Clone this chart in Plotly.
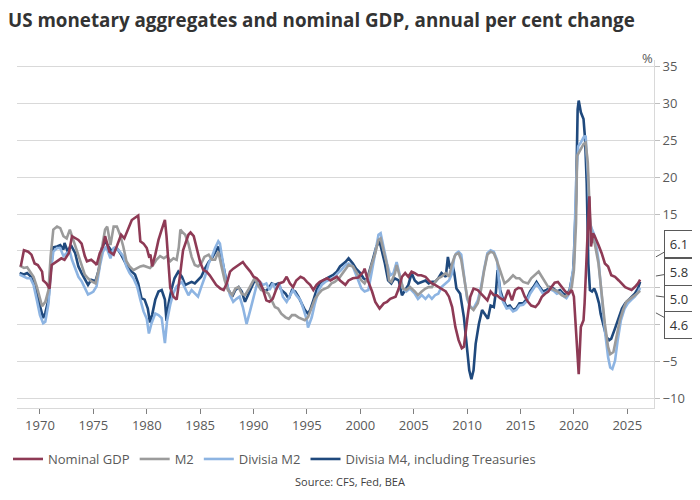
import plotly.graph_objects as go

# US monetary aggregates and nominal GDP, % y/y

gdp_year = [1968.2, 1968.5, 1968.9, 1969.2, 1969.5, 1969.8, 1970.2, 1970.3, 1970.6, 1970.9,
            1971.1, 1971.6, 1972.0, 1972.3, 1972.7, 1973.0, 1973.3, 1973.6, 1973.9, 1974.2,
            1974.4, 1974.8, 1975.2, 1975.3, 1975.6, 1975.9, 1976.1, 1976.5, 1976.9, 1977.2,
            1977.6, 1977.9, 1978.3, 1978.6, 1978.9, 1979.2, 1979.4, 1979.7, 1980.0, 1980.2,
            1980.35, 1980.5, 1980.8, 1981.1, 1981.4, 1981.7, 1981.85, 1982.0, 1982.2, 1982.5,
            1982.8, 1983.1, 1983.4, 1983.9, 1984.1, 1984.4, 1984.7, 1985.0, 1985.3, 1985.6,
            1985.9, 1986.2, 1986.5, 1986.9, 1987.2, 1987.5, 1987.8, 1988.1, 1988.4, 1988.7,
            1989.0, 1989.3, 1989.7, 1990.0, 1990.3, 1990.6, 1990.9, 1991.2, 1991.5, 1991.8,
            1992.1, 1992.4, 1992.8, 1993.1, 1993.4, 1993.7, 1994.0, 1994.4, 1994.7, 1995.0,
            1995.3, 1995.6, 1995.9, 1996.2, 1996.5, 1996.9, 1997.2, 1997.5, 1997.8, 1998.1,
            1998.4, 1998.6, 1998.9, 1999.3, 1999.8, 2000.3, 2000.4, 2000.7, 2001.1, 2001.4,
            2001.8, 2002.2, 2002.5, 2002.8, 2003.3, 2003.6, 2003.9, 2004.2, 2004.5, 2004.8,
            2005.1, 2005.4, 2005.7, 2006.1, 2006.4, 2006.7, 2007.0, 2007.3, 2007.6, 2008.0,
            2008.3, 2008.6, 2008.9, 2009.2, 2009.5, 2009.7, 2010.0, 2010.3, 2010.6, 2011.0,
            2011.3, 2011.6, 2011.9, 2012.2, 2012.5, 2012.8, 2013.1, 2013.5, 2013.85, 2014.2,
            2014.5, 2014.8, 2015.1, 2015.4, 2015.7, 2016.0, 2016.4, 2016.7, 2017.0, 2017.3,
            2017.6, 2017.9, 2018.2, 2018.5, 2018.9, 2019.2, 2019.5, 2019.8, 2020.0, 2020.3,
            2020.45, 2020.65, 2020.9, 2021.0, 2021.2, 2021.3, 2021.45, 2021.6, 2021.8, 2021.95,
            2022.3, 2022.6, 2022.9, 2023.2, 2023.5, 2023.85, 2024.2, 2024.5, 2024.8, 2025.1,
            2025.4, 2025.7, 2026.0, 2026.2]
gdp_val = [7.9, 10.1, 9.9, 9.5, 8.3, 8.1, 7.2, 6.0, 5.6, 4.9,
           8.1, 8.6, 9.0, 8.8, 9.7, 12.0, 11.7, 11.5, 11.0, 9.3,
           8.6, 8.8, 8.3, 8.1, 9.7, 10.6, 12.0, 9.9, 9.5, 10.6,
           12.2, 11.7, 13.3, 14.2, 14.5, 14.8, 11.3, 11.0, 10.4, 9.3,
           9.5, 7.9, 9.5, 11.5, 12.9, 14.2, 12.0, 8.8, 5.0, 3.8,
           3.4, 6.5, 10.1, 12.2, 12.5, 12.0, 10.1, 8.5, 7.4, 7.2,
           6.7, 6.0, 5.4, 4.9, 4.7, 5.6, 7.2, 7.6, 7.9, 8.1,
           8.5, 7.9, 7.2, 6.5, 6.3, 5.8, 4.7, 3.3, 3.1, 3.5,
           4.7, 5.6, 5.8, 6.5, 5.6, 5.1, 6.0, 6.5, 6.3, 5.8,
           5.4, 4.7, 5.4, 5.8, 6.0, 6.3, 6.0, 6.3, 6.5, 6.0,
           5.6, 5.4, 6.0, 6.3, 6.4, 7.2, 7.6, 6.0, 4.5, 3.1,
           2.2, 2.9, 3.1, 3.5, 3.8, 4.9, 6.5, 7.0, 6.5, 7.2,
           7.0, 6.7, 6.7, 6.5, 6.0, 5.6, 5.4, 5.1, 4.9, 4.5,
           3.8, 2.4, -0.3, -2.1, -3.2, -3.0, 0.6, 3.8, 4.9, 4.7,
           4.2, 3.8, 3.3, 4.5, 4.0, 4.0, 3.6, 3.3, 4.7, 3.3,
           4.7, 5.0, 4.9, 3.8, 3.1, 2.6, 2.4, 2.9, 3.8, 4.2,
           4.5, 5.1, 5.7, 5.8, 5.1, 4.5, 4.2, 4.7, 3.8, -2.6,
           -6.7, -0.3, 0.6, 2.9, 8.3, 12.9, 17.4, 10.6, 12.4, 12.0,
           10.8, 9.7, 8.3, 7.9, 6.7, 6.5, 6.0, 5.6, 5.1, 4.9,
           4.7, 5.1, 5.6, 6.1]

m2_year = [1968.1, 1968.5, 1968.8, 1969.1, 1969.4, 1969.7, 1970.0, 1970.2, 1970.5, 1970.8,
           1971.0, 1971.25, 1971.6, 1971.9, 1972.2, 1972.5, 1972.8, 1973.0, 1973.3, 1973.6,
           1973.9, 1974.2, 1974.5, 1974.8, 1975.2, 1975.5, 1975.8, 1976.1, 1976.3, 1976.6,
           1976.9, 1977.2, 1977.5, 1977.8, 1978.1, 1978.4, 1978.75, 1979.1, 1979.4, 1979.7,
           1980.0, 1980.3, 1980.6, 1980.9, 1981.25, 1981.6, 1981.9, 1982.2, 1982.5, 1982.8,
           1983.0, 1983.15, 1983.3, 1983.6, 1983.9, 1984.2, 1984.5, 1984.8, 1985.1, 1985.4,
           1985.8, 1986.1, 1986.4, 1986.7, 1987.0, 1987.3, 1987.6, 1988.0, 1988.3, 1988.6,
           1988.9, 1989.2, 1989.5, 1989.8, 1990.1, 1990.4, 1990.7, 1991.1, 1991.4, 1991.7,
           1992.0, 1992.3, 1992.6, 1993.0, 1993.3, 1993.6, 1993.9, 1994.2, 1994.5, 1994.8,
           1995.1, 1995.45, 1995.75, 1996.1, 1996.4, 1996.7, 1997.0, 1997.3, 1997.6, 1998.0,
           1998.3, 1998.6, 1998.9, 1999.3, 1999.65, 2000.1, 2000.4, 2000.75, 2001.05, 2001.4,
           2001.7, 2001.9, 2002.2, 2002.5, 2002.7, 2002.9, 2003.25, 2003.4, 2003.7, 2004.0,
           2004.3, 2004.65, 2005.1, 2005.4, 2005.75, 2006.1, 2006.4, 2006.7, 2007.0, 2007.3,
           2007.6, 2008.0, 2008.3, 2008.6, 2008.9, 2009.2, 2009.45, 2009.7, 2010.0, 2010.3,
           2010.6, 2011.0, 2011.3, 2011.6, 2011.9, 2012.2, 2012.5, 2012.8, 2013.1, 2013.5,
           2013.85, 2014.3, 2014.6, 2014.9, 2015.25, 2015.7, 2016.0, 2016.35, 2016.7, 2017.0,
           2017.3, 2017.6, 2018.0, 2018.2, 2018.5, 2018.85, 2019.2, 2019.5, 2019.8, 2020.0,
           2020.2, 2020.3, 2020.55, 2020.9, 2021.1, 2021.3, 2021.5, 2021.65, 2021.95, 2022.3,
           2022.6, 2022.9, 2023.2, 2023.4, 2023.7, 2024.0, 2024.3, 2024.6, 2024.9, 2025.25,
           2025.55, 2025.9, 2026.2]
m2_val = [8.0, 7.7, 7.8, 7.2, 6.5, 5.2, 3.4, 2.5, 3.1, 4.7,
          9.3, 12.9, 13.3, 13.1, 12.0, 11.7, 12.9, 12.0, 10.6, 9.5,
          8.1, 6.8, 6.3, 5.9, 5.6, 7.4, 10.4, 12.9, 13.3, 10.8,
          13.3, 13.3, 12.2, 10.6, 8.6, 7.9, 7.4, 7.7, 7.9, 8.0,
          7.9, 7.7, 8.1, 8.8, 9.3, 9.0, 9.3, 8.6, 9.0, 8.8,
          10.5, 12.9, 12.6, 12.2, 11.0, 9.2, 8.1, 7.9, 8.3, 9.2,
          9.5, 8.8, 8.8, 9.9, 7.9, 6.0, 4.7, 4.0, 4.9, 5.1,
          4.2, 4.0, 4.7, 5.6, 6.3, 5.4, 4.7, 4.5, 4.2, 3.3,
          2.4, 2.2, 1.5, 1.0, 0.8, 1.3, 1.3, 1.0, 0.8, 0.6,
          1.0, 2.4, 3.5, 4.2, 4.7, 4.9, 5.1, 5.6, 5.8, 6.3,
          6.9, 7.6, 8.1, 7.9, 7.0, 6.0, 5.6, 6.5, 8.1, 9.7,
          11.5, 11.7, 9.9, 8.1, 6.0, 5.8, 7.0, 8.1, 6.5, 4.9,
          4.7, 5.1, 4.5, 4.0, 4.5, 4.9, 5.1, 5.1, 5.8, 6.3,
          6.5, 7.0, 6.5, 8.3, 9.5, 9.7, 8.8, 6.5, 3.8, 2.4,
          2.0, 2.9, 4.7, 7.4, 9.5, 9.9, 9.7, 8.6, 7.4, 5.6,
          6.0, 6.7, 6.3, 6.3, 5.8, 5.6, 6.3, 6.7, 7.2, 6.5,
          5.8, 5.1, 4.8, 4.7, 4.5, 4.0, 3.8, 4.2, 5.1, 7.4,
          13.8, 22.9, 23.5, 24.5, 24.7, 22.0, 14.7, 12.0, 11.0, 8.3,
          4.2, 0.1, -3.0, -4.0, -3.7, -1.7, 0.6, 2.0, 3.1, 3.5,
          3.8, 4.2, 4.6]

dm2_year = [1968.1, 1968.5, 1968.8, 1969.1, 1969.4, 1969.7, 1970.0, 1970.3, 1970.5, 1970.8,
            1971.0, 1971.25, 1971.6, 1971.9, 1972.2, 1972.5, 1972.8, 1973.0, 1973.3, 1973.6,
            1973.9, 1974.2, 1974.5, 1974.8, 1975.0, 1975.3, 1975.6, 1975.9, 1976.2, 1976.6,
            1976.9, 1977.2, 1977.5, 1977.8, 1978.1, 1978.4, 1978.75, 1979.1, 1979.4, 1979.7,
            1980.0, 1980.2, 1980.45, 1980.8, 1981.1, 1981.4, 1981.7, 1981.9, 1982.2, 1982.5,
            1982.8, 1983.1, 1983.3, 1983.6, 1983.9, 1984.2, 1984.5, 1984.8, 1985.1, 1985.45,
            1985.8, 1986.1, 1986.4, 1986.7, 1986.85, 1987.1, 1987.4, 1987.8, 1988.1, 1988.4,
            1988.7, 1989.0, 1989.35, 1989.7, 1990.0, 1990.3, 1990.6, 1990.9, 1991.2, 1991.5,
            1991.8, 1992.1, 1992.4, 1992.75, 1993.1, 1993.4, 1993.7, 1994.0, 1994.4, 1994.7,
            1995.0, 1995.1, 1995.45, 1995.75, 1996.1, 1996.4, 1996.7, 1997.0, 1997.3, 1997.6,
            1997.9, 1998.2, 1998.6, 1998.9, 1999.3, 1999.65, 2000.1, 2000.4, 2000.75, 2001.05,
            2001.4, 2001.7, 2001.9, 2002.2, 2002.5, 2002.8, 2003.1, 2003.4, 2003.7, 2004.0,
            2004.3, 2004.65, 2005.1, 2005.4, 2005.75, 2006.1, 2006.4, 2006.7, 2007.0, 2007.3,
            2007.6, 2008.0, 2008.3, 2008.6, 2008.8, 2009.0, 2009.2, 2009.45, 2009.7, 2010.0,
            2010.3, 2010.6, 2011.0, 2011.3, 2011.6, 2011.9, 2012.2, 2012.5, 2012.8, 2013.1,
            2013.4, 2013.7, 2014.0, 2014.3, 2014.6, 2014.9, 2015.25, 2015.6, 2015.9, 2016.2,
            2016.5, 2016.8, 2017.1, 2017.45, 2017.75, 2018.1, 2018.4, 2018.7, 2019.0, 2019.3,
            2019.6, 2020.0, 2020.2, 2020.4, 2020.65, 2020.9, 2021.1, 2021.3, 2021.5, 2021.7,
            2021.95, 2022.3, 2022.6, 2022.9, 2023.2, 2023.4, 2023.6, 2023.85, 2024.1, 2024.4,
            2024.75, 2025.05, 2025.4, 2025.7, 2026.0, 2026.2]
dm2_val = [6.8, 6.5, 6.3, 6.3, 5.4, 3.4, 1.3, 0.2, 0.4, 2.9,
           7.0, 9.9, 10.4, 10.4, 9.3, 9.7, 9.9, 8.8, 7.7, 6.5,
           5.9, 5.0, 4.1, 4.3, 4.5, 5.2, 7.9, 9.9, 10.6, 9.0,
           10.4, 10.4, 9.9, 9.3, 7.9, 7.0, 6.3, 5.2, 3.4, 1.8,
           0.8, -1.2, 0.2, 1.5, 1.3, 0.9, -2.5, 0.5, 2.7, 4.3,
           5.2, 5.6, 5.8, 4.9, 4.0, 4.7, 4.2, 3.8, 5.1, 6.5,
           8.3, 9.2, 10.4, 11.3, 11.0, 8.8, 6.0, 4.0, 3.1, 3.5,
           3.8, 2.4, 0.1, 2.0, 3.8, 5.4, 5.8, 5.4, 5.6, 4.7,
           5.6, 4.7, 5.6, 3.8, 3.1, 4.0, 4.7, 4.0, 3.3, 2.0,
           0.6, -0.4, 1.0, 2.9, 4.7, 5.4, 5.8, 6.0, 6.3, 6.5,
           7.0, 7.4, 8.1, 8.3, 7.9, 6.5, 4.9, 4.5, 4.7, 7.0,
           10.1, 12.2, 12.4, 10.1, 8.3, 6.7, 7.0, 8.5, 6.5, 4.9,
           4.5, 4.9, 4.2, 3.5, 4.0, 3.5, 4.0, 3.5, 4.0, 4.2,
           5.1, 5.6, 6.0, 7.0, 9.2, 9.7, 9.9, 9.5, 6.5, 3.5,
           2.4, 2.2, 3.3, 5.1, 7.6, 9.7, 10.1, 9.9, 8.8, 4.2,
           3.0, 2.2, 2.3, 1.8, 2.0, 2.6, 2.7, 3.2, 4.2, 4.8,
           5.5, 4.9, 4.2, 4.4, 4.8, 4.6, 4.2, 4.4, 3.9, 3.6,
           4.3, 8.3, 19.2, 24.2, 24.7, 25.4, 25.6, 20.6, 13.8, 12.9,
           12.0, 8.8, 3.8, -0.8, -4.4, -5.8, -6.0, -4.9, -2.1, 0.6,
           2.2, 2.9, 3.4, 3.8, 4.4, 5.0]

dm4_year = [1968.1, 1968.5, 1968.8, 1969.1, 1969.4, 1969.7, 1970.0, 1970.3, 1970.5, 1970.8,
            1971.0, 1971.25, 1971.6, 1971.9, 1972.2, 1972.3, 1972.6, 1972.9, 1973.3, 1973.6,
            1973.9, 1974.2, 1974.5, 1974.8, 1975.2, 1975.5, 1975.8, 1976.1, 1976.4, 1976.75,
            1977.0, 1977.3, 1977.6, 1977.95, 1978.25, 1978.6, 1978.9, 1979.2, 1979.5, 1979.8,
            1980.1, 1980.3, 1980.5, 1980.8, 1981.1, 1981.4, 1981.7, 1981.85, 1982.05, 1982.3,
            1982.6, 1982.95, 1983.3, 1983.6, 1983.9, 1984.2, 1984.5, 1984.8, 1985.1, 1985.45,
            1985.8, 1986.1, 1986.4, 1986.7, 1987.0, 1987.3, 1987.6, 1988.0, 1988.3, 1988.6,
            1988.9, 1989.2, 1989.5, 1989.8, 1990.1, 1990.4, 1990.7, 1991.1, 1991.4, 1991.7,
            1992.0, 1992.3, 1992.6, 1993.0, 1993.3, 1993.6, 1993.9, 1994.2, 1994.5, 1994.8,
            1995.1, 1995.3, 1995.6, 1995.9, 1996.2, 1996.5, 1996.9, 1997.2, 1997.5, 1997.8,
            1998.1, 1998.6, 1998.9, 1999.3, 1999.6, 2000.0, 2000.3, 2000.6, 2000.9, 2001.2,
            2001.5, 2001.8, 2002.0, 2002.3, 2002.6, 2002.9, 2003.2, 2003.6, 2003.9, 2004.2,
            2004.5, 2004.8, 2005.1, 2005.4, 2005.7, 2006.1, 2006.4, 2006.7, 2007.0, 2007.3,
            2007.6, 2008.0, 2008.2, 2008.4, 2008.6, 2008.8, 2009.0, 2009.35, 2009.7, 2010.0,
            2010.2, 2010.4, 2010.6, 2010.8, 2011.1, 2011.4, 2011.7, 2011.95, 2012.2, 2012.5,
            2012.7, 2012.85, 2013.1, 2013.4, 2013.7, 2014.0, 2014.3, 2014.6, 2014.9, 2015.25,
            2015.6, 2015.9, 2016.2, 2016.5, 2016.8, 2017.1, 2017.45, 2017.75, 2018.1, 2018.4,
            2018.7, 2019.0, 2019.3, 2019.6, 2019.95, 2020.2, 2020.35, 2020.45, 2020.65, 2020.9,
            2021.05, 2021.2, 2021.35, 2021.5, 2021.7, 2021.9, 2022.1, 2022.35, 2022.5, 2022.75,
            2023.05, 2023.3, 2023.5, 2023.85, 2024.2, 2024.5, 2024.8, 2025.1, 2025.4, 2025.7,
            2026.0, 2026.2]
dm4_val = [7.0, 6.8, 7.0, 6.6, 5.9, 4.3, 2.5, 0.9, 1.6, 3.4,
           7.4, 10.5, 10.6, 10.8, 10.2, 11.1, 9.9, 10.8, 9.7, 7.9,
           7.0, 6.1, 5.4, 6.1, 5.9, 7.4, 10.4, 11.3, 10.6, 9.9,
           10.4, 10.2, 9.5, 8.6, 7.7, 7.2, 6.8, 5.6, 3.6, 3.4,
           2.2, 0.3, 1.3, 3.4, 4.5, 4.7, 3.4, 0.5, 2.9, 4.7,
           6.3, 7.2, 6.5, 5.4, 5.6, 5.8, 5.6, 6.0, 6.5, 7.6,
           8.5, 9.0, 9.9, 10.6, 9.2, 7.0, 4.9, 3.8, 4.7, 5.1,
           4.5, 3.1, 4.0, 5.1, 6.0, 5.6, 5.1, 4.5, 4.9, 5.6,
           5.4, 5.6, 4.7, 4.2, 3.5, 4.7, 4.5, 3.8, 2.9, 2.0,
           1.5, 2.0, 3.3, 4.7, 5.6, 6.0, 6.3, 6.5, 6.8, 7.2,
           7.9, 8.5, 9.0, 8.3, 7.6, 7.0, 6.3, 6.0, 7.4, 9.0,
           10.6, 11.3, 10.1, 8.3, 6.0, 5.6, 6.3, 6.0, 4.0, 4.7,
           5.4, 7.0, 6.0, 5.6, 5.8, 6.0, 5.6, 5.8, 5.8, 6.3,
           7.0, 6.5, 9.2, 7.6, 8.3, 7.0, 4.9, 4.2, 1.0, -3.0,
           -6.2, -7.4, -6.2, -2.6, 0.1, 2.0, 1.3, 0.8, 2.6, 2.4,
           4.5, 7.4, 4.7, 3.3, 2.4, 2.6, 2.0, 2.2, 2.9, 2.9,
           3.5, 4.5, 5.1, 5.8, 5.1, 4.5, 4.7, 5.1, 4.9, 4.5,
           4.7, 4.2, 4.0, 4.7, 7.4, 17.0, 29.2, 30.4, 28.8, 27.9,
           25.1, 19.2, 8.3, 4.7, 4.5, 4.9, 4.2, 2.9, 1.5, 0.1,
           -1.7, -2.1, -1.9, -0.5, 1.0, 2.2, 2.9, 3.3, 3.8, 4.2,
           4.9, 5.8]

# right-axis ticks; 10, 5 and 0 sit behind the end-value boxes in the original
y_ticks = [-10, -5, 0, 5, 10, 15, 20, 25, 30, 35]
y_ticktext = ["\u221210", "\u22125", "", "", "", "15", "20", "25", "30", "35"]
end_labels = ["6.1", "5.8", "5.0", "4.6"]

font = "Open Sans"
txt = "#595959"
grid = "#d9d9d9"

fig = go.Figure()
# drawn back to front, legend reversed so it reads GDP, M2, Divisia M2, Divisia M4
fig.add_trace(go.Scatter(x=dm4_year, y=dm4_val, mode="lines", name="Divisia M4, including Treasuries",
                         line=dict(color="#1f497d", width=2.6)))
fig.add_trace(go.Scatter(x=dm2_year, y=dm2_val, mode="lines", name="Divisia M2",
                         line=dict(color="#8db4e2", width=2.6)))
fig.add_trace(go.Scatter(x=m2_year, y=m2_val, mode="lines", name="M2",
                         line=dict(color="#9b9b9b", width=2.6)))
fig.add_trace(go.Scatter(x=gdp_year, y=gdp_val, mode="lines", name="Nominal GDP",
                         line=dict(color="#8e3a55", width=2.6)))

# the page body adds an 8px offset, so the figure is 8px smaller and shifted up/left
fig.update_layout(
    width=692, height=492,
    margin=dict(l=9, r=46, t=52, b=92),
    paper_bgcolor="white", plot_bgcolor="white",
    font=dict(family=font, size=13, color=txt),
    title=dict(text="<b>US monetary aggregates and nominal GDP, annual per cent change</b>",
               x=0.0, xref="container", xanchor="left",
               y=0.9746, yref="container", yanchor="middle", pad=dict(l=0, t=0, b=0, r=0),
               font=dict(family=font, size=18.8, color="#333333")),
    showlegend=True,
    legend=dict(orientation="h", traceorder="reversed",
                x=0.0, xref="container", xanchor="left",
                y=0.0833, yref="container", yanchor="middle",
                font=dict(size=13, color=txt), itemwidth=30, tracegroupgap=0),
)

fig.update_xaxes(range=[1967.85, 2027.5], tick0=1970, dtick=5, showgrid=False,
                 showline=True, linecolor=grid, linewidth=1,
                 ticks="outside", ticklen=5, tickcolor="#7f7f7f",
                 tickfont=dict(size=13, color=txt), zeroline=False)
fig.update_yaxes(range=[-11.3, 35.9], side="right",
                 tickmode="array", tickvals=y_ticks, ticktext=y_ticktext,
                 showgrid=True, gridcolor=grid, gridwidth=1,
                 showline=True, linecolor=grid, linewidth=1,
                 ticks="outside", ticklen=5, tickcolor="#bfbfbf",
                 tickfont=dict(size=13, color=txt), zeroline=False)

# unit label above right axis
fig.add_annotation(text="%", xref="paper", x=1.0015, yref="paper", y=1.037,
                   showarrow=False, font=dict(size=13, color=txt))

# boxed end-value callouts on the right
tip_y = [9.2, 6.6, 3.9, 1.6]
off_y = [-13, -4, 3, 12.5]
for lab, ty, oy in zip(end_labels, tip_y, off_y):
    fig.add_annotation(text=lab, xref="paper", x=1.003, yref="y", y=ty,
                       ax=23, ay=oy, showarrow=True, arrowhead=0, arrowwidth=1,
                       arrowcolor="#595959", bordercolor="#595959", borderwidth=1,
                       borderpad=1, bgcolor="white", width=26, height=24,
                       font=dict(size=13, color="#333333"))

fig.add_annotation(text="Source: CFS, Fed, BEA", xref="paper", x=0.523, xanchor="center",
                   yref="paper", y=-0.2126, yanchor="middle", showarrow=False,
                   font=dict(size=11, color="#404040"))

fig.write_html("out.html")
